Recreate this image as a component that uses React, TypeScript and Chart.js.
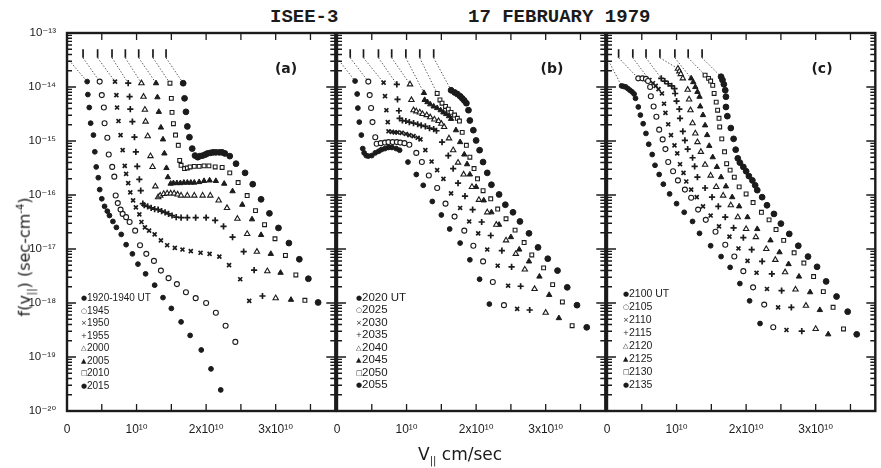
import React, { useEffect, useRef } from 'react';
import { Chart, registerables } from 'chart.js';

Chart.register(...registerables);

const INK = '#1b1b1b';
const SANS = '"Liberation Sans", "DejaVu Sans", Arial, sans-serif';
const DEJA = '"DejaVu Sans", "Liberation Sans", sans-serif';
const MONO = '"Liberation Mono", "DejaVu Sans Mono", monospace';

// Each point: [v_parallel in units of 1e10 cm/s, log10 f(v_parallel) in sec-cm^-4]
type Pt = [number, number];

// ---------------- Panel (a) ----------------
const labelsA = ['1920-1940 UT', '1945', '1950', '1955', '2000', '2005', '2010', '2015'];
const a1920: Pt[] = [[0.29,-13.90],[0.30,-14.14],[0.32,-14.38],[0.34,-14.67],[0.38,-14.89],[0.40,-15.20],[0.42,-15.48],[0.45,-15.68],[0.47,-15.90],[0.50,-16.07],[0.54,-16.21],[0.58,-16.30],[0.61,-16.38],[0.66,-16.49],[0.71,-16.60],[0.78,-16.73],[0.85,-16.92],[0.94,-17.09],[1.02,-17.28],[1.13,-17.46],[1.26,-17.67],[1.38,-17.90],[1.50,-18.10],[1.64,-18.35],[1.77,-18.60],[1.93,-18.87],[2.07,-19.22],[2.21,-19.61]];
const a1945: Pt[] = [[0.47,-13.90],[0.50,-14.15],[0.53,-14.38],[0.54,-14.67],[0.58,-14.94],[0.60,-15.25],[0.65,-15.48],[0.68,-15.66],[0.70,-16.01],[0.73,-16.15],[0.77,-16.27],[0.80,-16.35],[0.85,-16.41],[0.90,-16.50],[0.98,-16.66],[1.05,-16.93],[1.14,-17.09],[1.25,-17.22],[1.35,-17.40],[1.46,-17.54],[1.58,-17.65],[1.71,-17.80],[1.85,-17.91],[2.00,-18.00],[2.14,-18.18],[2.28,-18.42],[2.42,-18.72]];
const a1950: Pt[] = [[0.69,-13.90],[0.71,-14.15],[0.72,-14.38],[0.74,-14.63],[0.77,-14.89],[0.80,-15.17],[0.83,-15.46],[0.85,-15.61],[0.88,-15.78],[0.91,-15.95],[0.95,-16.10],[0.99,-16.23],[1.04,-16.36],[1.07,-16.50],[1.12,-16.60],[1.18,-16.66],[1.26,-16.73],[1.35,-16.84],[1.44,-16.93],[1.55,-16.98],[1.66,-17.01],[1.78,-17.04],[1.92,-17.07],[2.05,-17.09],[2.19,-17.14],[2.33,-17.30],[2.49,-17.56],[2.62,-17.96]];
const a1955: Pt[] = [[0.88,-13.93],[0.90,-14.18],[0.91,-14.41],[0.94,-14.64],[0.97,-14.93],[0.99,-15.20],[1.01,-15.47],[1.04,-15.71],[1.06,-15.92],[1.09,-16.16],[1.11,-16.19],[1.16,-16.21],[1.21,-16.24],[1.26,-16.26],[1.31,-16.27],[1.36,-16.30],[1.41,-16.32],[1.46,-16.35],[1.51,-16.38],[1.57,-16.41],[1.64,-16.42],[1.73,-16.42],[1.85,-16.42],[2.00,-16.42],[2.13,-16.47],[2.25,-16.58],[2.38,-16.78],[2.54,-17.05],[2.69,-17.39],[2.81,-17.87]];
const a2000: Pt[] = [[1.07,-13.93],[1.10,-14.18],[1.12,-14.42],[1.13,-14.64],[1.16,-14.91],[1.20,-15.28],[1.23,-15.48],[1.27,-15.84],[1.31,-16.04],[1.34,-16.01],[1.39,-15.98],[1.44,-15.97],[1.49,-15.97],[1.54,-15.97],[1.59,-15.99],[1.64,-16.01],[1.73,-16.01],[1.83,-16.01],[1.95,-16.01],[2.06,-16.01],[2.18,-16.10],[2.30,-16.24],[2.45,-16.44],[2.59,-16.72],[2.73,-17.05],[2.88,-17.41],[3.00,-17.91]];
const a2005: Pt[] = [[1.28,-13.93],[1.30,-14.19],[1.32,-14.46],[1.35,-14.75],[1.38,-14.97],[1.40,-15.23],[1.43,-15.50],[1.45,-15.67],[1.49,-15.79],[1.53,-15.78],[1.58,-15.78],[1.63,-15.78],[1.68,-15.77],[1.73,-15.77],[1.78,-15.77],[1.83,-15.77],[1.90,-15.76],[1.97,-15.74],[2.05,-15.73],[2.14,-15.74],[2.26,-15.79],[2.38,-15.93],[2.52,-16.18],[2.66,-16.45],[2.79,-16.74],[2.93,-17.09],[3.07,-17.44],[3.22,-17.94]];
const a2010: Pt[] = [[1.48,-13.93],[1.50,-14.21],[1.51,-14.47],[1.53,-14.68],[1.56,-14.89],[1.60,-15.08],[1.62,-15.36],[1.64,-15.45],[1.69,-15.51],[1.73,-15.50],[1.77,-15.48],[1.83,-15.47],[1.90,-15.47],[1.97,-15.46],[2.04,-15.46],[2.13,-15.48],[2.23,-15.49],[2.34,-15.59],[2.46,-15.77],[2.59,-16.01],[2.71,-16.29],[2.84,-16.55],[2.99,-16.81],[3.14,-17.12],[3.29,-17.48],[3.42,-17.95]];
const a2015: Pt[] = [[1.67,-13.93],[1.69,-14.21],[1.71,-14.46],[1.73,-14.73],[1.76,-14.93],[1.80,-15.14],[1.84,-15.27],[1.88,-15.30],[1.91,-15.28],[1.95,-15.27],[1.99,-15.25],[2.02,-15.23],[2.06,-15.22],[2.10,-15.21],[2.14,-15.21],[2.19,-15.21],[2.23,-15.21],[2.27,-15.23],[2.34,-15.28],[2.43,-15.42],[2.56,-15.59],[2.67,-15.80],[2.79,-16.08],[2.91,-16.34],[3.04,-16.61],[3.19,-16.89],[3.34,-17.19],[3.47,-17.55],[3.61,-17.99]];
const offsetsA = [0, 0.231, 0.44, 0.647, 0.839, 1.031, 1.236, 1.424];

// ---------------- Panel (b) ----------------
const labelsB = ['2020 UT', '2025', '2030', '2035', '2040', '2045', '2050', '2055'];
const b2020: Pt[] = [[0.26,-13.89],[0.29,-14.13],[0.30,-14.39],[0.32,-14.65],[0.35,-14.89],[0.37,-15.14],[0.39,-15.22],[0.42,-15.27],[0.45,-15.28],[0.50,-15.27],[0.55,-15.22],[0.60,-15.19],[0.64,-15.16],[0.69,-15.14],[0.74,-15.12],[0.79,-15.12],[0.85,-15.14],[0.90,-15.17],[1.02,-15.39],[1.14,-15.62],[1.24,-15.82],[1.37,-16.12],[1.50,-16.37],[1.62,-16.63],[1.77,-16.89],[1.91,-17.20],[2.05,-17.56],[2.19,-18.02]];
const b2025: Pt[] = [[0.45,-13.90],[0.47,-14.15],[0.49,-14.39],[0.51,-14.65],[0.55,-14.93],[0.57,-15.05],[0.63,-15.04],[0.69,-15.03],[0.74,-15.02],[0.80,-15.02],[0.86,-15.02],[0.91,-15.03],[0.97,-15.04],[1.04,-15.07],[1.14,-15.22],[1.22,-15.39],[1.32,-15.64],[1.44,-15.87],[1.56,-16.16],[1.69,-16.40],[1.83,-16.66],[1.96,-16.94],[2.10,-17.23],[2.24,-17.61],[2.40,-18.04]];
const b2030: Pt[] = [[0.67,-13.92],[0.69,-14.17],[0.71,-14.43],[0.73,-14.65],[0.74,-14.82],[0.79,-14.83],[0.83,-14.84],[0.87,-14.84],[0.93,-14.85],[0.99,-14.87],[1.04,-14.89],[1.10,-14.91],[1.16,-14.94],[1.20,-14.97],[1.27,-15.17],[1.36,-15.38],[1.44,-15.54],[1.53,-15.70],[1.64,-15.97],[1.77,-16.24],[1.90,-16.49],[2.03,-16.71],[2.16,-17.01],[2.31,-17.31],[2.46,-17.68],[2.59,-18.11]];
const b2035: Pt[] = [[0.86,-13.95],[0.87,-14.23],[0.89,-14.44],[0.90,-14.58],[0.94,-14.62],[0.99,-14.63],[1.04,-14.65],[1.10,-14.67],[1.16,-14.69],[1.21,-14.71],[1.27,-14.73],[1.33,-14.76],[1.39,-14.78],[1.43,-14.81],[1.51,-15.02],[1.60,-15.27],[1.67,-15.51],[1.74,-15.78],[1.84,-16.02],[1.95,-16.27],[2.08,-16.50],[2.21,-16.75],[2.37,-17.03],[2.51,-17.33],[2.64,-17.69],[2.77,-18.13]];
const b2040: Pt[] = [[1.05,-13.95],[1.07,-14.24],[1.10,-14.43],[1.14,-14.45],[1.19,-14.47],[1.23,-14.50],[1.29,-14.52],[1.34,-14.56],[1.40,-14.60],[1.46,-14.63],[1.50,-14.68],[1.54,-14.74],[1.61,-14.95],[1.67,-15.17],[1.74,-15.40],[1.82,-15.62],[1.94,-15.85],[2.04,-16.09],[2.16,-16.32],[2.29,-16.55],[2.43,-16.84],[2.57,-17.09],[2.70,-17.38],[2.84,-17.74],[3.00,-18.18]];
const b2045: Pt[] = [[1.25,-14.11],[1.26,-14.24],[1.30,-14.28],[1.34,-14.32],[1.39,-14.36],[1.44,-14.39],[1.49,-14.43],[1.53,-14.47],[1.57,-14.50],[1.61,-14.54],[1.64,-14.59],[1.71,-14.80],[1.77,-15.02],[1.83,-15.25],[1.87,-15.43],[1.91,-15.62],[2.00,-15.85],[2.11,-16.10],[2.22,-16.32],[2.33,-16.55],[2.50,-16.78],[2.62,-17.01],[2.76,-17.23],[2.91,-17.51],[3.05,-17.85],[3.19,-18.28]];
const b2050: Pt[] = [[1.44,-14.12],[1.48,-14.24],[1.51,-14.30],[1.56,-14.36],[1.60,-14.41],[1.64,-14.47],[1.69,-14.52],[1.73,-14.58],[1.76,-14.63],[1.80,-14.84],[1.86,-15.08],[1.91,-15.30],[1.97,-15.51],[2.02,-15.70],[2.10,-15.92],[2.21,-16.07],[2.31,-16.26],[2.43,-16.44],[2.56,-16.65],[2.69,-16.88],[2.80,-17.11],[2.97,-17.35],[3.10,-17.66],[3.24,-17.98],[3.38,-18.42]];
const b2055: Pt[] = [[1.64,-14.06],[1.69,-14.10],[1.73,-14.13],[1.77,-14.17],[1.80,-14.21],[1.83,-14.25],[1.86,-14.30],[1.89,-14.43],[1.91,-14.62],[1.96,-14.80],[2.00,-14.99],[2.05,-15.17],[2.10,-15.39],[2.16,-15.59],[2.22,-15.81],[2.33,-15.99],[2.42,-16.18],[2.53,-16.32],[2.63,-16.49],[2.76,-16.71],[2.89,-16.97],[3.03,-17.18],[3.17,-17.40],[3.31,-17.71],[3.45,-18.04],[3.59,-18.45]];
const offsetsB = [0, 0.19, 0.381, 0.596, 0.786, 0.99, 1.19, 1.39];

// ---------------- Panel (c) ----------------
const labelsC = ['2100 UT', '2105', '2110', '2115', '2120', '2125', '2130', '2135'];
const c2100: Pt[] = [[0.21,-13.98],[0.24,-13.99],[0.27,-14.00],[0.30,-14.03],[0.33,-14.06],[0.36,-14.09],[0.39,-14.13],[0.41,-14.21],[0.45,-14.37],[0.48,-14.52],[0.52,-14.68],[0.56,-14.86],[0.60,-15.06],[0.65,-15.25],[0.69,-15.45],[0.75,-15.62],[0.81,-15.80],[0.90,-15.98],[1.00,-16.16],[1.11,-16.32],[1.23,-16.49],[1.33,-16.71],[1.49,-16.94],[1.64,-17.14],[1.77,-17.34],[1.91,-17.64],[2.05,-17.96],[2.20,-18.38]];
const c2105: Pt[] = [[0.45,-13.84],[0.51,-13.84],[0.56,-13.85],[0.59,-13.89],[0.62,-14.00],[0.63,-14.17],[0.67,-14.36],[0.71,-14.55],[0.75,-14.79],[0.80,-14.97],[0.84,-15.15],[0.88,-15.39],[0.95,-15.56],[1.02,-15.73],[1.12,-15.90],[1.21,-16.05],[1.31,-16.27],[1.42,-16.46],[1.56,-16.68],[1.70,-16.92],[1.83,-17.14],[1.96,-17.41],[2.10,-17.71],[2.26,-18.03],[2.39,-18.45]];
const c2110: Pt[] = [[0.61,-13.87],[0.66,-13.93],[0.70,-13.98],[0.74,-14.04],[0.79,-14.12],[0.82,-14.31],[0.84,-14.48],[0.88,-14.69],[0.92,-14.89],[0.97,-15.08],[1.01,-15.23],[1.05,-15.43],[1.10,-15.59],[1.14,-15.75],[1.21,-15.90],[1.29,-16.04],[1.38,-16.21],[1.49,-16.38],[1.61,-16.58],[1.76,-16.77],[1.89,-16.99],[2.02,-17.22],[2.15,-17.44],[2.30,-17.74],[2.46,-18.08],[2.58,-18.50]];
const c2115: Pt[] = [[0.78,-13.84],[0.83,-13.89],[0.88,-13.94],[0.93,-13.98],[0.97,-14.03],[0.98,-14.12],[1.00,-14.26],[1.04,-14.41],[1.05,-14.58],[1.09,-14.82],[1.12,-14.99],[1.16,-15.15],[1.23,-15.31],[1.26,-15.47],[1.30,-15.67],[1.41,-15.87],[1.51,-16.04],[1.60,-16.21],[1.70,-16.41],[1.82,-16.61],[1.96,-16.79],[2.08,-17.01],[2.23,-17.23],[2.37,-17.46],[2.51,-17.77],[2.65,-18.08],[2.80,-18.52]];
const c2120: Pt[] = [[1.02,-13.66],[1.04,-13.71],[1.06,-13.76],[1.09,-13.84],[1.16,-14.05],[1.18,-14.23],[1.20,-14.43],[1.23,-14.67],[1.27,-14.86],[1.30,-15.02],[1.35,-15.20],[1.41,-15.44],[1.49,-15.64],[1.57,-15.85],[1.67,-16.01],[1.78,-16.19],[1.88,-16.41],[2.00,-16.63],[2.14,-16.78],[2.29,-17.00],[2.42,-17.20],[2.56,-17.43],[2.71,-17.75],[2.86,-18.05],[3.00,-18.48]];
const c2125: Pt[] = [[1.21,-13.84],[1.24,-13.91],[1.27,-14.00],[1.30,-14.09],[1.33,-14.18],[1.34,-14.36],[1.38,-14.52],[1.41,-14.71],[1.44,-14.89],[1.47,-15.09],[1.52,-15.30],[1.58,-15.48],[1.64,-15.67],[1.71,-15.84],[1.80,-16.04],[1.90,-16.21],[2.02,-16.41],[2.16,-16.63],[2.35,-16.84],[2.48,-17.06],[2.61,-17.28],[2.76,-17.51],[2.92,-17.80],[3.06,-18.13],[3.18,-18.58]];
const c2130: Pt[] = [[1.41,-13.78],[1.46,-13.84],[1.49,-13.89],[1.52,-13.97],[1.54,-14.12],[1.57,-14.28],[1.59,-14.43],[1.61,-14.58],[1.62,-14.74],[1.65,-14.96],[1.69,-15.20],[1.72,-15.42],[1.77,-15.54],[1.83,-15.67],[1.90,-15.85],[2.00,-15.98],[2.10,-16.14],[2.22,-16.32],[2.33,-16.46],[2.43,-16.64],[2.54,-16.84],[2.69,-17.07],[2.83,-17.26],[2.97,-17.51],[3.11,-17.79],[3.25,-18.08],[3.40,-18.48]];
const c2135: Pt[] = [[1.64,-13.81],[1.66,-13.87],[1.68,-13.95],[1.70,-14.06],[1.71,-14.18],[1.71,-14.37],[1.73,-14.54],[1.78,-14.76],[1.82,-14.96],[1.85,-15.16],[1.88,-15.32],[1.91,-15.40],[1.96,-15.48],[2.00,-15.56],[2.04,-15.65],[2.09,-15.73],[2.13,-15.82],[2.16,-15.91],[2.23,-16.04],[2.30,-16.19],[2.40,-16.35],[2.50,-16.53],[2.62,-16.72],[2.75,-16.94],[2.89,-17.14],[3.02,-17.33],[3.15,-17.60],[3.30,-17.88],[3.46,-18.16],[3.59,-18.58]];
const offsetsC = [0, 0.167, 0.371, 0.561, 0.761, 0.976, 1.167, 1.367];

// offset marker bars (log10 f range) at top of each panel
const BAR_TOP = -13.30;
const BAR_BOTTOM = -13.46;

// axes
const X_MAX = 3.857;
const xTickValues = [0, 1, 2, 3];
const xTickLabels = ['0', '10¹⁰', '2x10¹⁰', '3x10¹⁰'];
const yTickExps = [-13, -14, -15, -16, -17, -18, -19, -20];
const yTickLabels = ['10⁻¹³', '10⁻¹⁴', '10⁻¹⁵', '10⁻¹⁶', '10⁻¹⁷', '10⁻¹⁸', '10⁻¹⁹', '10⁻²⁰'];

const MARKERS = [
  { style: 'circle', r: 2.4, filled: true, bw: 1 },
  { style: 'circle', r: 2.5, filled: false, bw: 1.1 },
  { style: 'crossRot', r: 2.8, filled: true, bw: 1.7 },
  { style: 'cross', r: 3.1, filled: true, bw: 1.7 },
  { style: 'triangle', r: 3.1, filled: false, bw: 1.1 },
  { style: 'triangle', r: 3.1, filled: true, bw: 1 },
  { style: 'rect', r: 2.7, filled: false, bw: 1.1 },
  { style: 'circle', r: 2.9, filled: true, bw: 1 },
];
const LEGEND_GLYPHS = ['●', '○', '×', '+', '△', '▲', '□', '●'];

const frameTicks = {
  id: 'frameTicks',
  afterDatasetsDraw(chart: any) {
    const { ctx, chartArea: ca, scales } = chart;
    const x = scales.x;
    const y = scales.y;
    ctx.save();
    ctx.strokeStyle = INK;
    ctx.lineWidth = 1.3;
    ctx.beginPath();
    for (let v = 0.5; v < x.max - 0.05; v += 0.5) {
      const px = x.getPixelForValue(v);
      ctx.moveTo(px, ca.bottom);
      ctx.lineTo(px, ca.bottom - 7);
      ctx.moveTo(px, ca.top);
      ctx.lineTo(px, ca.top + 7);
    }
    for (let e = -20; e < -13; e++) {
      for (let k = 1; k <= 9; k++) {
        const py = y.getPixelForValue(k * Math.pow(10, e));
        const len = k === 1 ? 9 : 5;
        ctx.moveTo(ca.left, py);
        ctx.lineTo(ca.left + len, py);
        ctx.moveTo(ca.right, py);
        ctx.lineTo(ca.right - len, py);
      }
    }
    ctx.stroke();
    ctx.lineWidth = 2.4;
    ctx.strokeRect(ca.left, ca.top, ca.right - ca.left, ca.bottom - ca.top);
    ctx.restore();
  },
};

interface PanelProps {
  series: Pt[][];
  labels: string[];
  offsets: number[];
  left: number;
  width: number;
  axisW: number;
  showY: boolean;
}

function PanelChart({ series, labels, offsets, left, width, axisW, showY }: PanelProps) {
  const ref = useRef<HTMLCanvasElement>(null);
  useEffect(() => {
    const toXY = (p: Pt) => ({ x: p[0], y: Math.pow(10, p[1]) });
    const datasets: any[] = [];
    series.forEach((s, i) => {
      datasets.push({
        data: [{ x: offsets[i], y: Math.pow(10, BAR_BOTTOM) }, toXY(s[0])],
        showLine: true, fill: false, borderColor: '#555555', borderWidth: 1,
        borderDash: [1.4, 1.8], pointRadius: 0, order: 3,
      });
      datasets.push({
        data: [{ x: offsets[i], y: Math.pow(10, BAR_TOP) }, { x: offsets[i], y: Math.pow(10, BAR_BOTTOM) }],
        showLine: true, fill: false, borderColor: INK, borderWidth: 1.7, pointRadius: 0, order: 3,
      });
    });
    series.forEach((s, i) => {
      const m = MARKERS[i];
      datasets.push({
        label: labels[i],
        data: s.map(toXY),
        showLine: false,
        pointStyle: m.style,
        pointRadius: m.r,
        pointBorderWidth: m.bw,
        pointBackgroundColor: m.filled ? INK : '#ffffff',
        pointBorderColor: INK,
        backgroundColor: m.filled ? INK : '#ffffff',
        borderColor: INK,
        order: 1,
      });
    });
    const chart = new Chart(ref.current as HTMLCanvasElement, {
      type: 'scatter',
      data: { datasets },
      options: {
        responsive: false,
        animation: false,
        devicePixelRatio: 1,
        layout: { padding: { top: 33, right: 4, left: 0, bottom: 0 } },
        plugins: { legend: { display: false }, tooltip: { enabled: false } },
        scales: {
          x: {
            type: 'linear', min: 0, max: X_MAX,
            grid: { display: false }, border: { display: false },
            afterBuildTicks: (s: any) => { s.ticks = xTickValues.map((v) => ({ value: v })); },
            afterFit: (s: any) => { s.height = 57; },
            ticks: {
              autoSkip: false, maxRotation: 0, padding: 3, color: INK,
              font: { family: SANS, size: 12 },
              callback: (_v: any, i: number) => xTickLabels[i] ?? '',
            },
          },
          y: {
            type: 'logarithmic', min: Math.pow(10, -20), max: Math.pow(10, -13),
            grid: { display: false }, border: { display: false },
            afterBuildTicks: (s: any) => { s.ticks = yTickExps.map((e) => ({ value: Math.pow(10, e) })); },
            afterFit: (s: any) => { s.width = axisW; },
            ticks: {
              display: showY, autoSkip: false, padding: 3, color: INK,
              font: { family: SANS, size: 11.5 },
              callback: (_v: any, i: number) => yTickLabels[i] ?? '',
            },
          },
        },
      } as any,
      plugins: [frameTicks],
    });
    return () => chart.destroy();
  }, []);
  return (
    <canvas
      ref={ref}
      width={width}
      height={468}
      style={{ position: 'absolute', left, top: 0, width, height: 468 }}
    />
  );
}

function Legend({ labels, left, top, step, size }: { labels: string[]; left: number; top: number; step: number; size: number }) {
  return (
    <div style={{ position: 'absolute', left, top }}>
      {labels.map((l, i) => (
        <div
          key={l}
          style={{
            position: 'absolute', left: 0, top: i * step - 7, height: 14, lineHeight: '14px',
            whiteSpace: 'nowrap', fontSize: size, fontFamily: SANS, color: INK,
          }}
        >
          <span style={{ fontSize: 7, display: 'inline-block', width: 6, verticalAlign: 1, fontFamily: DEJA }}>
            {LEGEND_GLYPHS[i]}
          </span>
          {l}
        </div>
      ))}
    </div>
  );
}

function Tag({ text, x, y }: { text: string; x: number; y: number }) {
  return (
    <div
      style={{
        position: 'absolute', left: x, top: y, transform: 'translate(-50%,-50%)',
        fontFamily: DEJA, fontWeight: 'bold', fontSize: 14, color: INK, whiteSpace: 'nowrap',
      }}
    >
      {text}
    </div>
  );
}

export default function App() {
  return (
    <div
      style={{
        position: 'absolute', left: 0, top: 0, width: 881, height: 468,
        background: '#ffffff', overflow: 'hidden',
      }}
    >
      <div style={{ position: 'absolute', left: 270, top: 8, fontFamily: MONO, fontWeight: 'bold', fontSize: 19, lineHeight: '19px', color: INK, whiteSpace: 'nowrap' }}>
        ISEE-3
      </div>
      <div style={{ position: 'absolute', left: 468, top: 8, fontFamily: MONO, fontWeight: 'bold', fontSize: 19, lineHeight: '19px', color: INK, whiteSpace: 'nowrap' }}>
        17 FEBRUARY 1979
      </div>

      <PanelChart
        series={[a1920, a1945, a1950, a1955, a2000, a2005, a2010, a2015]}
        labels={labelsA} offsets={offsetsA} left={0} width={341} axisW={67} showY={true}
      />
      <PanelChart
        series={[b2020, b2025, b2030, b2035, b2040, b2045, b2050, b2055]}
        labels={labelsB} offsets={offsetsB} left={317} width={294} axisW={20} showY={false}
      />
      <PanelChart
        series={[c2100, c2105, c2110, c2115, c2120, c2125, c2130, c2135]}
        labels={labelsC} offsets={offsetsC} left={587} width={294} axisW={20} showY={false}
      />

      <Tag text="(a)" x={286} y={68} />
      <Tag text="(b)" x={552} y={68} />
      <Tag text="(c)" x={822} y={68} />

      <Legend labels={labelsA} left={81} top={298.3} step={12.53} size={10} />
      <Legend labels={labelsB} left={356} top={296.7} step={12.5} size={11.5} />
      <Legend labels={labelsC} left={623} top={292.7} step={13.04} size={10.5} />

      <div
        style={{
          position: 'absolute', left: 26, top: 257, transform: 'translate(-50%,-50%) rotate(-90deg)',
          fontFamily: DEJA, fontSize: 16, color: INK, whiteSpace: 'nowrap', lineHeight: '18px',
        }}
      >
        f(v<sub style={{ fontSize: 10 }}>||</sub>) (sec-cm<sup style={{ fontSize: 10 }}>-4</sup>)
      </div>
      <div
        style={{
          position: 'absolute', left: 418, top: 446, fontFamily: DEJA, fontSize: 17,
          lineHeight: '17px', color: INK, whiteSpace: 'nowrap',
        }}
      >
        V<sub style={{ fontSize: 10 }}>||</sub> cm/sec
      </div>
    </div>
  );
}
